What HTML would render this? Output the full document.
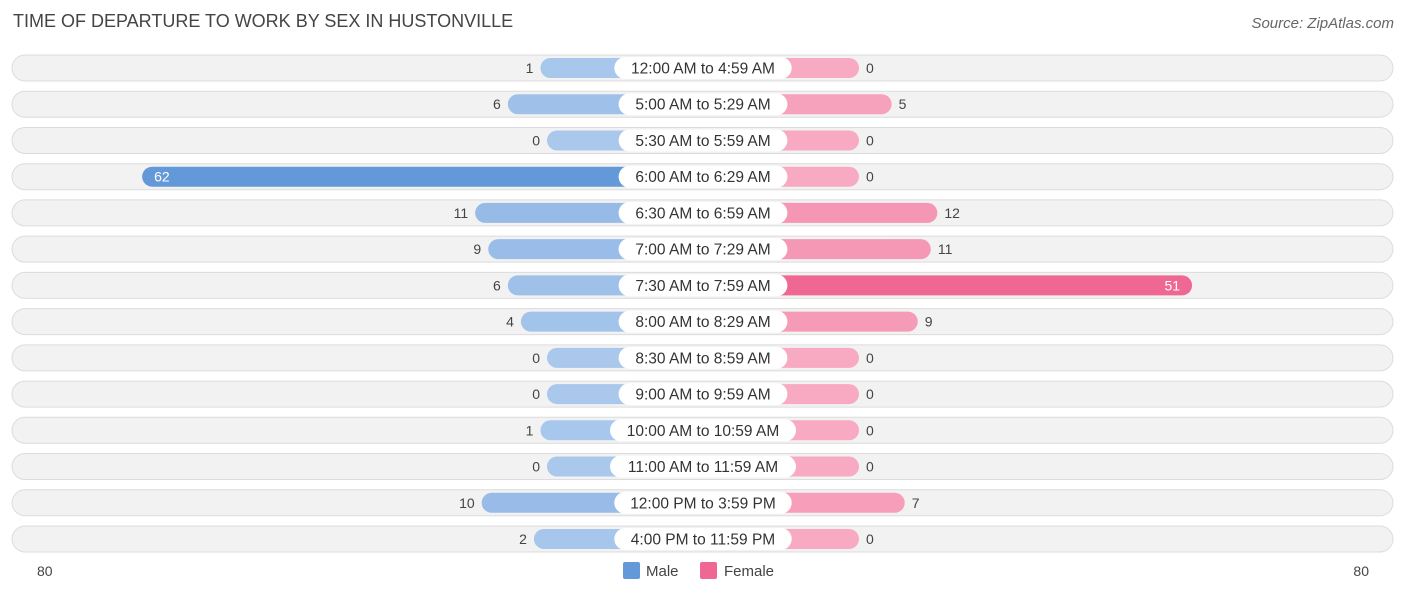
<!DOCTYPE html>
<html><head><meta charset="utf-8">
<style>
body{margin:0;background:#fff;font-family:"Liberation Sans",sans-serif;}
#wrap{position:relative;width:1406px;height:595px;overflow:hidden;}
.title{position:absolute;left:13px;top:11px;font-size:18px;color:#444;}
.src{position:absolute;right:12px;top:15px;font-size:15px;color:#666;font-style:italic;}
</style></head><body>
<div id="wrap">
<div class="title">TIME OF DEPARTURE TO WORK BY SEX IN HUSTONVILLE</div>
<div class="src">Source: ZipAtlas.com</div>
<svg id="svg" width="1406" height="595" style="position:absolute;left:0;top:0"></svg>
</div>
<script>
const categories=["12:00 AM to 4:59 AM","5:00 AM to 5:29 AM","5:30 AM to 5:59 AM","6:00 AM to 6:29 AM","6:30 AM to 6:59 AM","7:00 AM to 7:29 AM","7:30 AM to 7:59 AM","8:00 AM to 8:29 AM","8:30 AM to 8:59 AM","9:00 AM to 9:59 AM","10:00 AM to 10:59 AM","11:00 AM to 11:59 AM","12:00 PM to 3:59 PM","4:00 PM to 11:59 PM"];
const maleValues=[1,6,0,62,11,9,6,4,0,0,1,0,10,2];
const femaleValues=[0,5,0,0,12,11,51,9,0,0,0,0,7,0];
const axisTicks=["80","80"];
const NS="http://www.w3.org/2000/svg";
const svg=document.getElementById('svg');
const cx=703, base=156, k=6.53, y0=68, dy=36.23;
function xM(v){return cx-base-v*k;}
function xF(v){return cx+base+v*k;}
function mk(t,a,p){const e=document.createElementNS(NS,t);for(const n in a)e.setAttribute(n,a[n]);(p||svg).appendChild(e);return e;}
function mix(a,b,t){const p=s=>[1,3,5].map(i=>parseInt(s.substr(i,2),16));const A=p(a),B=p(b);return "rgb("+A.map((x,i)=>Math.round(x+(B[i]-x)*t)).join(",")+")";}
categories.forEach((c,i)=>{
  const y=y0+i*dy;
  const g=mk('g',{});
  
  
  const bg=mk('rect',{x:12,y:y-13,width:1381,height:26,rx:13,fill:'#f2f2f2',stroke:'#dcdcdc','stroke-width':1},g);
  
  
  const m=maleValues[i], f=femaleValues[i];
  const mc=mix('#a9c8ec','#6399d8',Math.min(1,m/40)), fc=mix('#f7aac2','#ef6893',Math.min(1,f/40));
  const mb=mk('rect',{x:xM(m),y:y-10,width:cx-xM(m),height:20,rx:10,fill:mc},g);
  
  
  const fb=mk('rect',{x:cx,y:y-10,width:xF(f)-cx,height:20,rx:10,fill:fc},g);
  
  
  const tw=c.length*8.6+14;
  const lb=mk('rect',{x:cx-tw/2,y:y-11,width:tw,height:22,rx:11,fill:'#fff'},g);
  
  
  const lt=mk('text',{x:cx,y:y+5.5,'text-anchor':'middle','font-size':15.5,fill:'#333'},g);
  lt.textContent=c;
  
  
  const big=m>40;
  const mt=mk('text',{x:big?xM(m)+12:xM(m)-7,y:y+5,'text-anchor':big?'start':'end','font-size':14,fill:big?'#fff':'#444'},g);
  mt.textContent=m;
  
  
  const fbig=f>40;
  const ft=mk('text',{x:fbig?xF(f)-12:xF(f)+7,y:y+5,'text-anchor':fbig?'end':'start','font-size':14,fill:fbig?'#fff':'#444'},g);
  ft.textContent=f;
  
  
});
const t1=mk('text',{x:37,y:576,'font-size':14,fill:'#444'});t1.textContent=axisTicks[0];


const t2=mk('text',{x:1369,y:576,'font-size':14,fill:'#444','text-anchor':'end'});t2.textContent=axisTicks[1];


const lg=mk('g',{});


const l1=mk('rect',{x:623,y:562,width:17,height:17,rx:2,fill:'#6399d8'},lg);


const l1t=mk('text',{x:646,y:576,'font-size':15,fill:'#444'},lg);l1t.textContent='Male';


const l2=mk('rect',{x:700,y:562,width:17,height:17,rx:2,fill:'#ef6893'},lg);


const l2t=mk('text',{x:724,y:576,'font-size':15,fill:'#444'},lg);l2t.textContent='Female';


</script>
</body></html>
